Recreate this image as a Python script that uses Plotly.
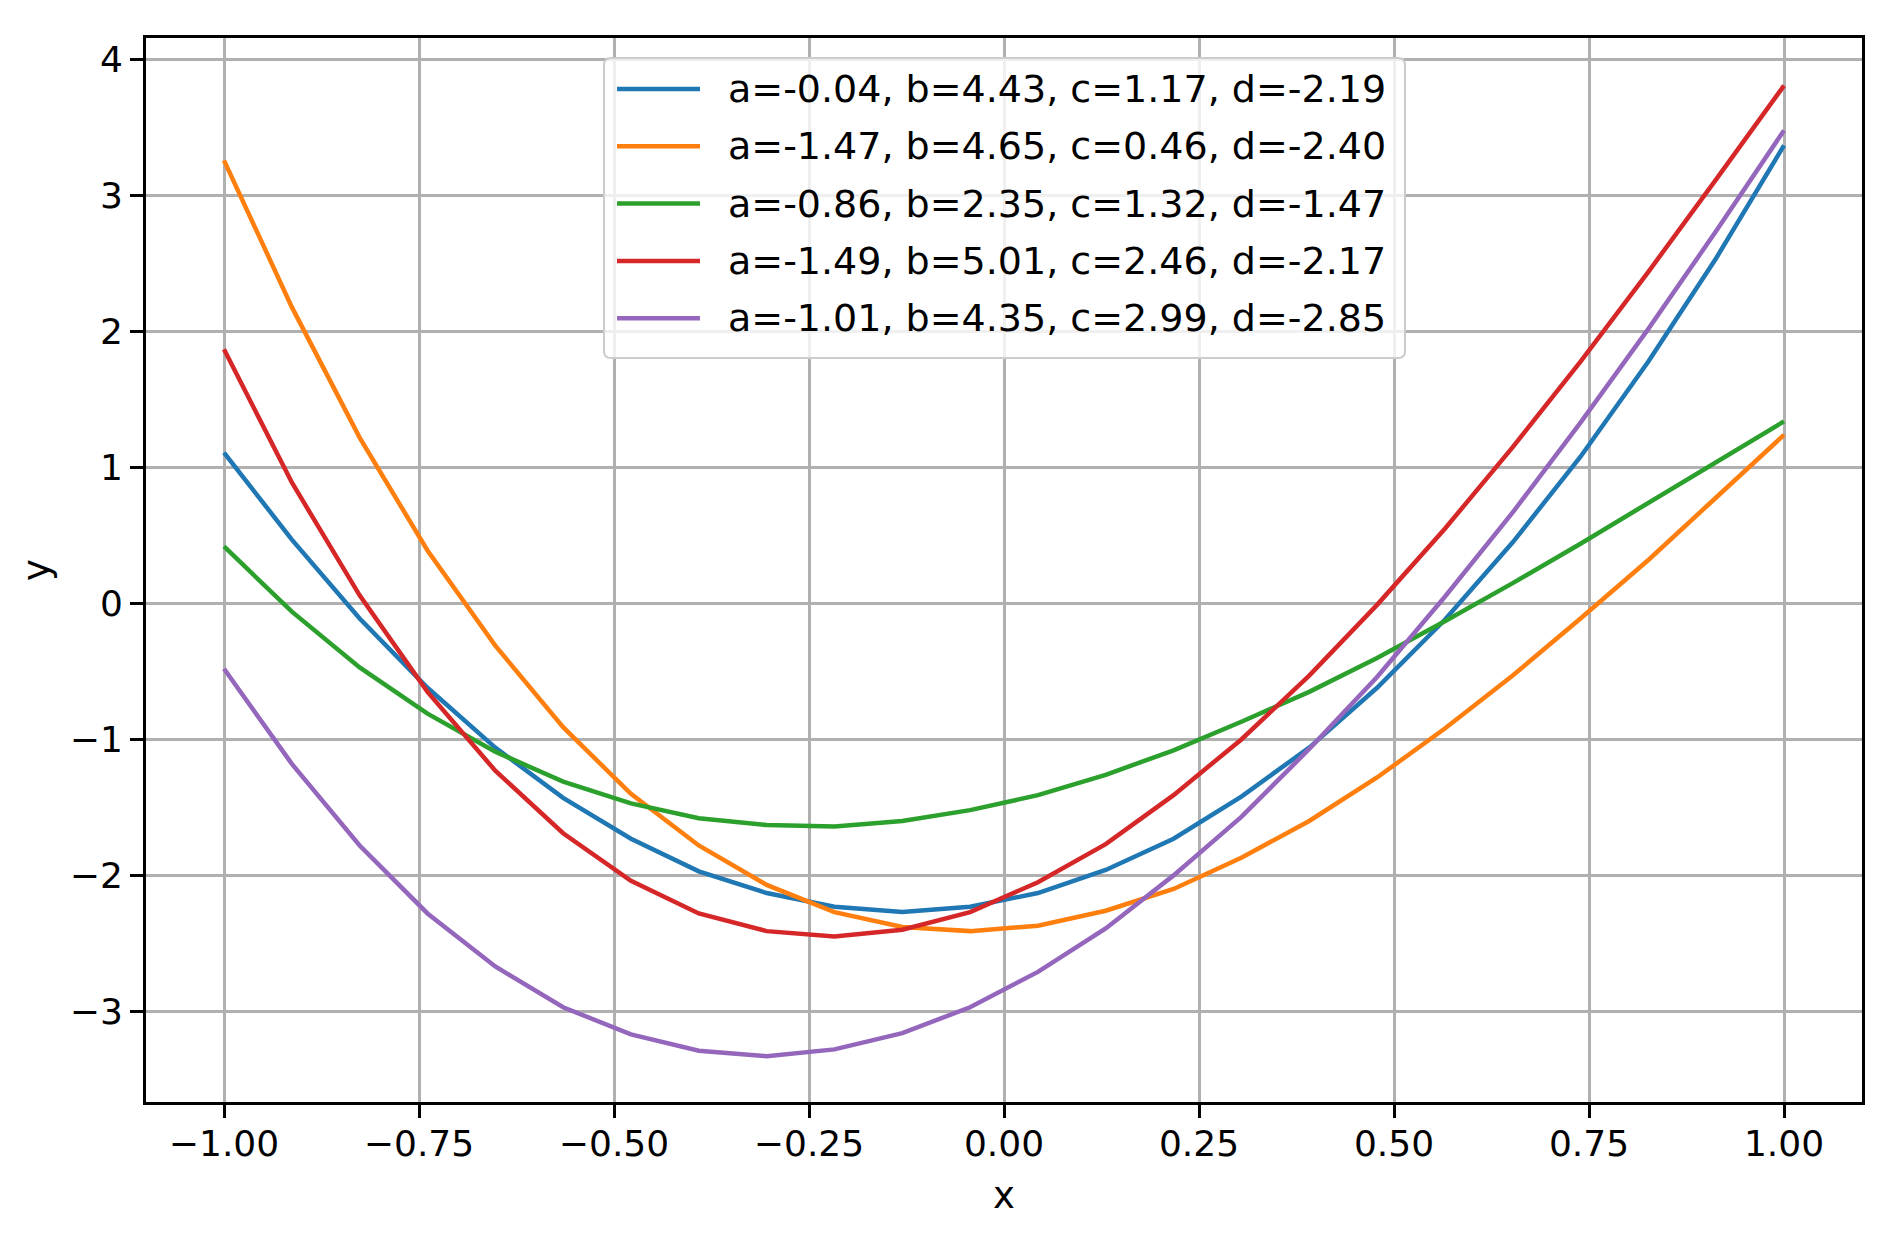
import plotly.graph_objects as go

# ---------------- data ----------------
x_vals = [-1.0, -0.9130, -0.8261, -0.7391, -0.6522, -0.5652, -0.4783, -0.3913,
          -0.3043, -0.2174, -0.1304, -0.0435, 0.0435, 0.1304, 0.2174, 0.3043,
          0.3913, 0.4783, 0.5652, 0.6522, 0.7391, 0.8261, 0.9130, 1.0]

blue_y = [1.11, 0.47, -0.11, -0.62, -1.06, -1.43, -1.73, -1.97, -2.13, -2.23, -2.27, -2.23,
          -2.13, -1.96, -1.73, -1.42, -1.06, -0.62, -0.12, 0.45, 1.08, 1.78, 2.54, 3.37]
orange_y = [3.26, 2.18, 1.22, 0.39, -0.31, -0.91, -1.40, -1.78, -2.07, -2.27, -2.38, -2.41,
            -2.37, -2.26, -2.10, -1.87, -1.60, -1.28, -0.92, -0.53, -0.11, 0.32, 0.78, 1.24]
green_y = [0.42, -0.06, -0.47, -0.81, -1.09, -1.31, -1.47, -1.58, -1.63, -1.64, -1.60, -1.52,
           -1.41, -1.26, -1.08, -0.87, -0.65, -0.40, -0.13, 0.15, 0.44, 0.74, 1.04, 1.34]
red_y = [1.87, 0.89, 0.06, -0.65, -1.23, -1.69, -2.04, -2.28, -2.41, -2.45, -2.40, -2.27,
         -2.05, -1.77, -1.41, -1.00, -0.53, -0.01, 0.55, 1.15, 1.78, 2.44, 3.12, 3.81]
purple_y = [-0.48, -1.18, -1.78, -2.28, -2.67, -2.97, -3.17, -3.29, -3.33, -3.28, -3.16, -2.97,
            -2.71, -2.39, -2.00, -1.57, -1.07, -0.54, 0.05, 0.67, 1.33, 2.02, 2.74, 3.48]

series_names = ["a=-0.04, b=4.43, c=1.17, d=-2.19",
                "a=-1.47, b=4.65, c=0.46, d=-2.40",
                "a=-0.86, b=2.35, c=1.32, d=-1.47",
                "a=-1.49, b=5.01, c=2.46, d=-2.17",
                "a=-1.01, b=4.35, c=2.99, d=-2.85"]

x_tick_vals = [-1.0, -0.75, -0.5, -0.25, 0.0, 0.25, 0.5, 0.75, 1.0]
x_tick_text = ["\u22121.00", "\u22120.75", "\u22120.50", "\u22120.25", "0.00", "0.25", "0.50", "0.75", "1.00"]
y_tick_vals = [-3, -2, -1, 0, 1, 2, 3, 4]
y_tick_text = ["\u22123", "\u22122", "\u22121", "0", "1", "2", "3", "4"]

# ---------------- styling ----------------
colors = ["#1f77b4", "#ff7f0e", "#2ca02c", "#d62728", "#9467bd"]
FONT = "DejaVu Sans"
W, H = 1890, 1248
L, R, T, B = 146, 28, 38, 146
PW, PH = W - L - R, H - T - B

def px(x):
    return (x - L) / PW

def py(y):
    return (H - B - y) / PH

fig = go.Figure()
all_y = [blue_y, orange_y, green_y, red_y, purple_y]
for name, ys, c in zip(series_names, all_y, colors):
    fig.add_trace(go.Scatter(x=x_vals, y=ys, mode="lines", name=name,
                             line=dict(color=c, width=4.5), showlegend=False))

# manual matplotlib-style legend
bx0, bx1, by0, by1 = 604, 1405, 58, 358
r = 7
rx, ry = r / PW, r / PH
X0, X1, Y0, Y1 = px(bx0), px(bx1), py(by1), py(by0)
path = (f"M {X0+rx},{Y0} L {X1-rx},{Y0} Q {X1},{Y0} {X1},{Y0+ry} "
        f"L {X1},{Y1-ry} Q {X1},{Y1} {X1-rx},{Y1} L {X0+rx},{Y1} "
        f"Q {X0},{Y1} {X0},{Y1-ry} L {X0},{Y0+ry} Q {X0},{Y0} {X0+rx},{Y0} Z")
shapes = [dict(type="path", path=path, xref="paper", yref="paper",
               fillcolor="rgba(255,255,255,0.8)", line=dict(color="#cccccc", width=2),
               layer="above")]
annotations = []
row_y0, row_dy = 89, 57.3
for i, (name, c) in enumerate(zip(series_names, colors)):
    yy = py(row_y0 + i * row_dy)
    shapes.append(dict(type="line", xref="paper", yref="paper", x0=px(617), x1=px(700),
                       y0=yy, y1=yy, line=dict(color=c, width=4.5), layer="above"))
    annotations.append(dict(text=name, xref="paper", yref="paper", x=px(726), y=yy,
                            xanchor="left", yanchor="middle", showarrow=False,
                            font=dict(family=FONT, size=38, color="black")))

axis_common = dict(showline=True, linecolor="black", linewidth=3, mirror=True,
                   ticks="outside", ticklen=13, tickwidth=3, tickcolor="black",
                   showgrid=True, gridcolor="#b0b0b0", gridwidth=2.5, zeroline=False,
                   tickfont=dict(family=FONT, size=36, color="black"))

fig.update_layout(
    width=W, height=H, autosize=False,
    margin=dict(l=L, r=R, t=T, b=B),
    paper_bgcolor="white", plot_bgcolor="white",
    font=dict(family=FONT, size=36, color="black"),
    xaxis=dict(range=[-1.1, 1.1], tickvals=x_tick_vals, ticktext=x_tick_text,
               ticklabelstandoff=-5,
               title=dict(text="x", font=dict(family=FONT, size=37), standoff=19),
               **axis_common),
    yaxis=dict(range=[-3.667, 4.16], tickvals=y_tick_vals, ticktext=y_tick_text,
               title=dict(text="y", font=dict(family=FONT, size=37), standoff=9),
               **axis_common),
    shapes=shapes, annotations=annotations,
)

fig.write_html("out.html")
